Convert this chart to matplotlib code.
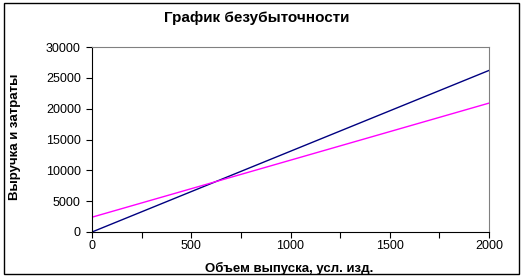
import matplotlib
matplotlib.use('Agg')
import matplotlib.pyplot as plt
from matplotlib.patches import Rectangle
from matplotlib.ticker import MultipleLocator

# объем выпуска и линии выручки / затрат (по концам)
volume = [0, 2000]
revenue = [0, 26200]
costs = [2400, 20900]

title = 'График безубыточности'
xlabel = 'Объем выпуска, усл. изд.'
ylabel = 'Выручка и затраты'

plt.rcParams['font.family'] = ['Liberation Sans', 'DejaVu Sans']

W, H = 521, 278
fig = plt.figure(figsize=(W / 100, H / 100), dpi=100)
fig.patch.set_facecolor('white')

# рамка вокруг диаграммы
fig.patches.append(Rectangle((4 / W, 1 - 274 / H), 515 / W, 271 / H,
                             transform=fig.transFigure, fill=False,
                             edgecolor='black', linewidth=1.0))

ax = fig.add_axes([92 / W, 1 - 232 / H, (489 - 92) / W, (232 - 47) / H])
ax.plot(volume, revenue, color='#000080', linewidth=1.0)
ax.plot(volume, costs, color='#FF00FF', linewidth=1.0)

ax.set_xlim(0, 2000)
ax.set_ylim(0, 30000)
ax.xaxis.set_major_locator(MultipleLocator(500))
ax.xaxis.set_minor_locator(MultipleLocator(250))
ax.yaxis.set_major_locator(MultipleLocator(5000))

for s in ['top', 'right']:
    ax.spines[s].set_color('#808080')
for s in ['left', 'bottom']:
    ax.spines[s].set_color('black')
ax.tick_params(which='both', direction='out', length=4, width=0.8,
               labelsize=9, pad=4)
ax.tick_params(axis='x', pad=2)

fig.text(257 / W, 1 - 18 / H, title, ha='center', va='center',
         fontsize=11, fontweight='bold')
fig.text(289 / W, 1 - 268 / H, xlabel, ha='center', va='center',
         fontsize=9.5, fontweight='bold')
fig.text(15 / W, 1 - 137 / H, ylabel, ha='center', va='center',
         rotation=90, fontsize=9.5, fontweight='bold')

fig.savefig('out.png', dpi=100)
